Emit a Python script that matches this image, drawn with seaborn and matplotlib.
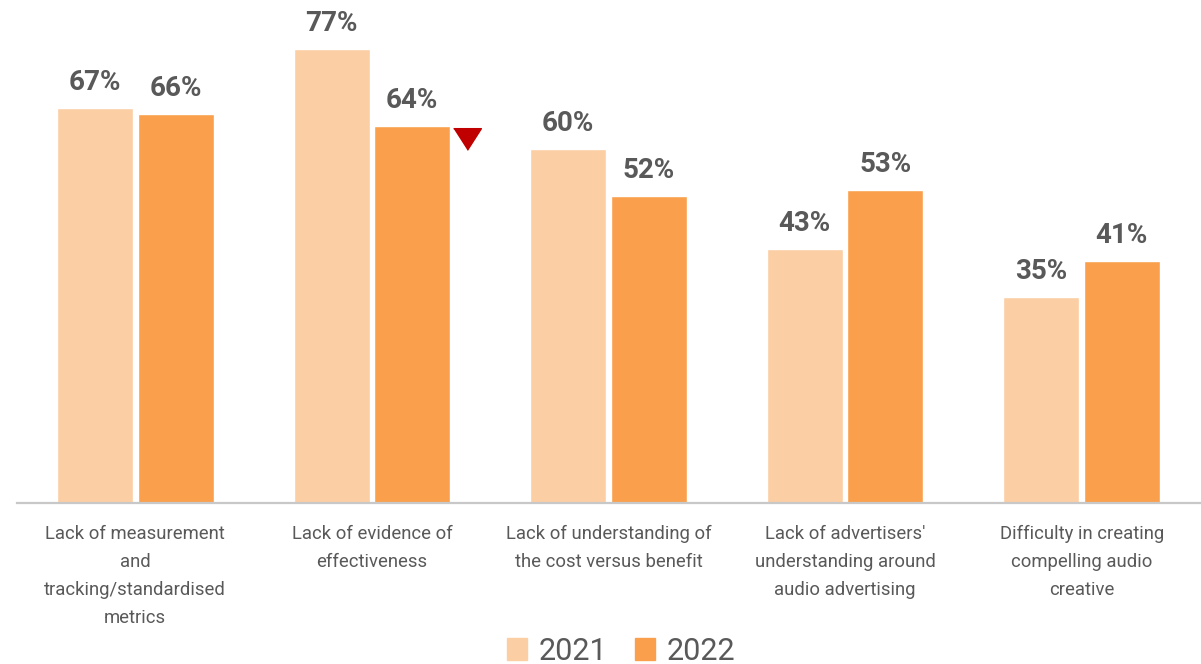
import matplotlib
matplotlib.use("Agg")
import matplotlib.pyplot as plt
from matplotlib.transforms import offset_copy
import numpy as np
import pandas as pd
import seaborn as sns

# Barriers to audio advertising, share of respondents by survey year
categories = [
    "Lack of measurement\nand\ntracking/standardised\nmetrics",
    "Lack of evidence of\neffectiveness",
    "Lack of understanding of\nthe cost versus benefit",
    "Lack of advertisers'\nunderstanding around\naudio advertising",
    "Difficulty in creating\ncompelling audio\ncreative",
]
years = ["2021", "2022"]
values_2021 = [67, 77, 60, 43, 35]
values_2022 = [66, 64, 52, 53, 41]
# significant year-on-year decline flag
significant_drop = [False, True, False, False, False]

colors = ["#FCCEA4", "#FAA04D"]
text_grey = "#595959"

df = pd.DataFrame({
    "category": categories * 2,
    "year": [years[0]] * len(categories) + [years[1]] * len(categories),
    "value": values_2021 + values_2022,
})

sns.set_theme(style="white")
plt.rcParams["font.family"] = ["Roboto", "DejaVu Sans"]

fig = plt.figure(figsize=(12.01, 6.64), dpi=100)
ax = fig.add_axes([17 / 1201, (664 - 503) / 664, (1200 - 17) / 1201, 503 / 664])

sns.barplot(data=df, x="category", y="value", hue="year", order=categories,
            hue_order=years, palette=colors, width=0.68, gap=0.055,
            saturation=1, errorbar=None, legend=False, ax=ax)

ax.set_xlim(-0.5, 4.5)
ax.set_ylim(0, 85.3)
ax.set_xlabel("")
ax.set_ylabel("")
ax.set_yticks([])
for side in ["top", "left", "right"]:
    ax.spines[side].set_visible(False)
ax.spines["bottom"].set_color("#C8C8C8")
ax.spines["bottom"].set_linewidth(1.6)
ax.tick_params(axis="x", length=0, pad=16, labelsize=13.3, labelcolor=text_grey)
for lbl in ax.get_xticklabels():
    lbl.set_linespacing(1.7)

# value labels above each bar
for container in ax.containers:
    for bar in container:
        h = bar.get_height()
        ax.annotate(f"{h:.0f}%", (bar.get_x() + bar.get_width() / 2, h),
                    xytext=(0, 13), textcoords="offset points",
                    ha="center", va="baseline", fontsize=20,
                    fontweight="bold", color=text_grey)

# red marker beside 2022 bars showing a significant drop
tri = [(-1, 0.78), (1, 0.78), (0, -0.78)]
marker_trans = offset_copy(ax.transData, fig=fig, x=17, y=-13, units="dots")
for bar, flag in zip(ax.containers[1], significant_drop):
    if flag:
        ax.plot(bar.get_x() + bar.get_width(), bar.get_height(),
                marker=tri, markersize=20, color="#C00000",
                linestyle="none", transform=marker_trans, clip_on=False)

handles = [plt.Rectangle((0, 0), 1, 1, color=c) for c in colors]
fig.legend(handles, years, loc="center", bbox_to_anchor=(0.517, 0.019),
           ncol=2, frameon=False, fontsize=22, labelcolor=text_grey,
           handlelength=0.66, handleheight=0.72, handletextpad=0.39,
           columnspacing=0.89, borderpad=0)

fig.savefig("out.png", dpi=100)
